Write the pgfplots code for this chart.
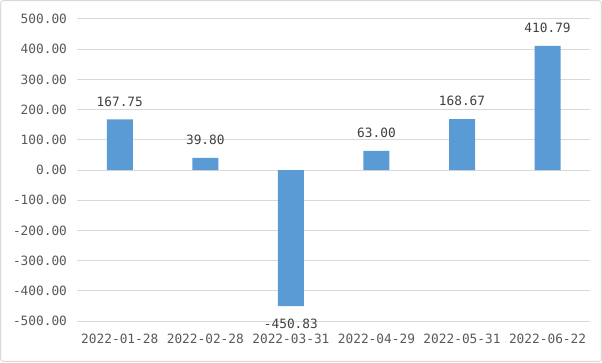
\documentclass[border=0pt]{standalone}
\usepackage{pgfplots}
\pgfplotsset{compat=1.18}
\usepackage{fontspec}
\setmainfont{DejaVu Sans Mono}
\definecolor{barblue}{HTML}{5B9BD5}
\definecolor{gridgray}{HTML}{D9D9D9}
\definecolor{ticktext}{HTML}{595959}
\definecolor{labtext}{HTML}{404040}
\begin{document}
\begin{tikzpicture}
\useasboundingbox (0,0) rectangle (451.5pt,271.5pt);
\draw[gridgray, line width=0.75pt, rounded corners=2pt] (0.5pt,0.5pt) rectangle (451pt,271pt);
\begin{axis}[
  at={(57.75pt,30.75pt)}, anchor=south west,
  scale only axis, width=385pt, height=226.5pt,
  ybar, bar width=19.5pt,
  xmin=-0.5, xmax=5.5, ymin=-500, ymax=500,
  ytick distance=100,
  xtick=data,
  xticklabels={2022-01-28,2022-02-28,2022-03-31,2022-04-29,2022-05-31,2022-06-22},
  axis line style={draw=none},
  major tick length=0pt,
  ymajorgrids, grid style={gridgray, line width=0.75pt},
  /pgf/number format/assume math mode=true,
  yticklabel style={/pgf/number format/.cd, fixed, fixed zerofill, precision=2, /tikz/.cd, text=ticktext, font=\fontsize{9.6}{11}\selectfont, xshift=-4pt},
  xticklabel style={text=ticktext, font=\fontsize{9.6}{11}\selectfont, yshift=-6pt},
  nodes near coords,
  nodes near coords style={/pgf/number format/.cd, fixed, fixed zerofill, precision=2, /tikz/.cd, text=labtext, font=\fontsize{9.6}{11}\selectfont, inner ysep=9.5pt},
  clip=false,
]
\addplot[fill=barblue, draw=none] coordinates {(0,167.75) (1,39.80) (2,-450.83) (3,63.00) (4,168.67) (5,410.79)};
\end{axis}
\end{tikzpicture}
\end{document}
